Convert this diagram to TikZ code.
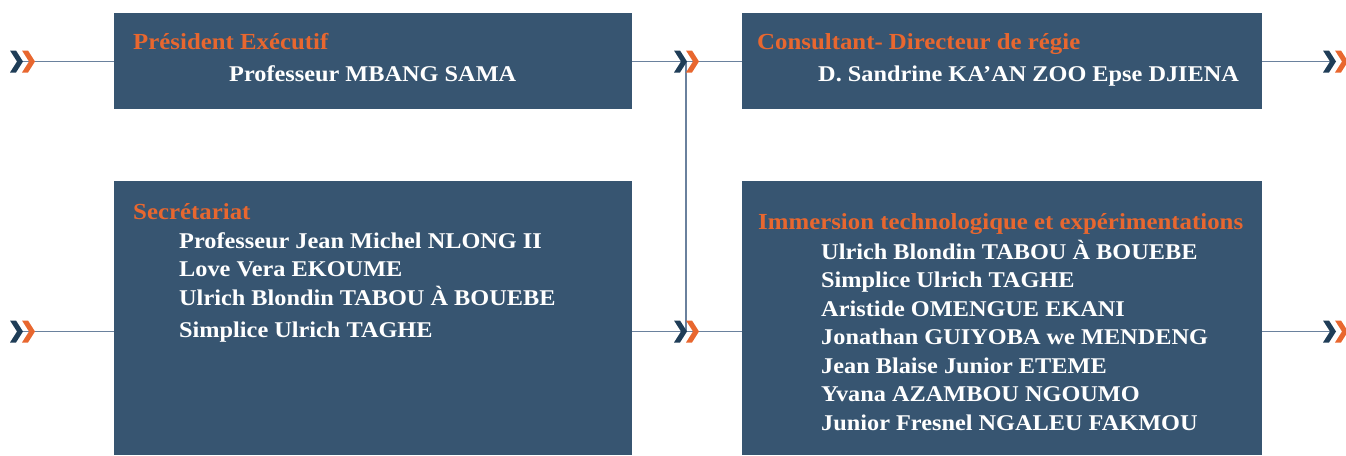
\documentclass[tikz,border=0pt]{standalone}
\usepackage{fontspec}
\setmainfont{Liberation Serif}[FakeStretch=1.08]
\usetikzlibrary{positioning}
\usetikzlibrary{calc}

\definecolor{boxblue}{HTML}{375571}
\definecolor{linkblue}{HTML}{6A819D}
\definecolor{chevdark}{HTML}{1F3D57}
\definecolor{chevorange}{HTML}{E8672F}

\tikzstyle{every node}=[font=\bfseries\fontsize{22.5}{27}\selectfont]
\tikzstyle{every path}=[line cap=butt,line join=miter]
\tikzstyle{box}=[fill=boxblue,anchor=north west,inner sep=0pt]
\tikzstyle{title}=[text=chevorange,anchor=base west,inner sep=0pt,font=\bfseries\fontsize{23}{27}\selectfont]
\tikzstyle{member}=[text=white,anchor=base west,inner sep=0pt]
\tikzstyle{link}=[draw=linkblue,line width=1.3pt]

% double chevron, #1 = name, (#2,#3) = joint between the two arrows
\newcommand{\chevpair}[3]{%
  \coordinate (#1) at (#2,#3);
  \begin{scope}[shift={(#2,#3)}]
    \fill[chevdark] (-12,-11) -- (-6,-11) -- (1,0) -- (-6,11) -- (-12,11) -- (-5,0) -- cycle;
    \fill[chevorange] (0,-11) -- (6,-11) -- (13,0) -- (6,11) -- (0,11) -- (7,0) -- cycle;
  \end{scope}}

\begin{document}
\begin{tikzpicture}[x=1pt,y=-1pt]
\useasboundingbox (0,0) rectangle (1346,455);

% boxes
\node[box,minimum width=518,minimum height=96] (pres) at (114,13) {};
\node[box,minimum width=520,minimum height=96] (cons) at (742,13) {};
\node[box,minimum width=518,minimum height=274] (secr) at (114,181) {};
\node[box,minimum width=520,minimum height=274] (imme) at (742,181) {};

% chevron joints
\coordinate (inA) at (22,61.5);
\coordinate (midA) at (686,61.5);
\coordinate (outA) at (1335,61.5);
\coordinate (inB) at (22,331.5);
\coordinate (midB) at (686,331.5);
\coordinate (outB) at (1335,331.5);

% connectors
\draw[link] (inA) -- (inA -| pres.west);
\draw[link] (pres.east |- midA) -- (cons.west |- midA);
\draw[link] (cons.east |- outA) -- (outA);
\draw[link] (inB) -- (inB -| secr.west);
\draw[link] (secr.east |- midB) -- (imme.west |- midB);
\draw[link] (imme.east |- outB) -- (outB);
\draw[link] (midA) -- (midB);

\chevpair{chA}{22}{61.5}
\chevpair{chB}{686}{61.5}
\chevpair{chC}{1335}{61.5}
\chevpair{chD}{22}{331.5}
\chevpair{chE}{686}{331.5}
\chevpair{chF}{1335}{331.5}

% texts
\node[title] (presT) at (133,49) {Président Exécutif};
\node[member] (presN) at (229,81) {Professeur MBANG SAMA};

\node[title] (consT) at (757,49) {Consultant- Directeur de régie};
\node[member] (consN) at (818,81) {D. Sandrine KA’AN ZOO Epse DJIENA};

\node[title] (secrT) at (133,219) {Secrétariat};
\node[member] (secrA) at (179,248) {Professeur Jean Michel NLONG II};
\node[member] (secrB) at (179,276.5) {Love Vera EKOUME};
\node[member] (secrC) at (179,305) {Ulrich Blondin TABOU À BOUEBE};
\node[member] (secrD) at (179,337) {Simplice Ulrich TAGHE};

\node[title] (immeT) at (758,229) {Immersion technologique et expérimentations};
\node[member] (immeA) at (821,259) {Ulrich Blondin TABOU À BOUEBE};
\node[member] (immeB) at (821,287.5) {Simplice Ulrich TAGHE};
\node[member] (immeC) at (821,316) {Aristide OMENGUE EKANI};
\node[member] (immeD) at (821,344.5) {Jonathan GUIYOBA we MENDENG};
\node[member] (immeE) at (821,373) {Jean Blaise Junior ETEME};
\node[member] (immeF) at (821,401.5) {Yvana AZAMBOU NGOUMO};
\node[member] (immeG) at (821,430) {Junior Fresnel NGALEU FAKMOU};
\end{tikzpicture}
\end{document}
